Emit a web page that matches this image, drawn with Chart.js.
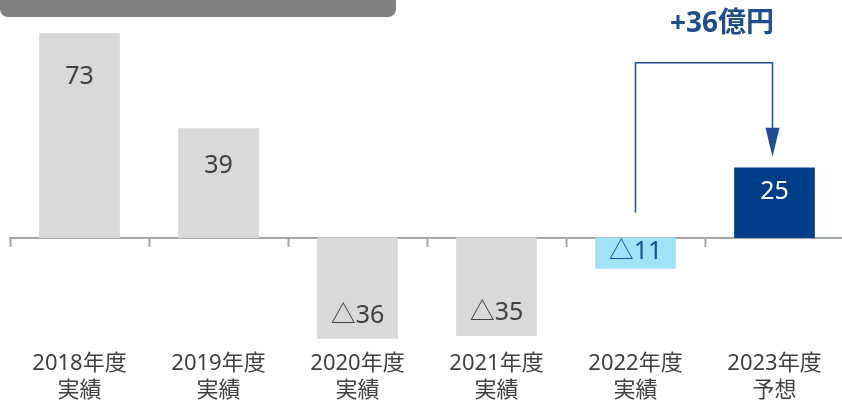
<!DOCTYPE html>
<html>
<head>
<meta charset="utf-8">
<script src="https://cdn.jsdelivr.net/npm/chart.js@4"></script>
<style>
  body { margin: 0; background: #fff; overflow: hidden; }
  #wrap { width: 844px; height: 400px; position: relative; }
</style>
</head>
<body>
<div id="wrap"><canvas id="barChart"></canvas></div>
<script>
// data
let years = [["2018年度", "実績"], ["2019年度", "実績"], ["2020年度", "実績"], ["2021年度", "実績"], ["2022年度", "実績"], ["2023年度", "予想"]];
let profit = [73, 39, -36, -35, -11, 25];
let barColors = ['#d9d9d9', '#d9d9d9', '#d9d9d9', '#d9d9d9', '#a0e3f9', '#003e8a'];
let labelColors = ['#404040', '#404040', '#404040', '#404040', '#1d4f97', '#ffffff'];
let diffText = "+36億円";

let fontMain = "'Noto Sans', 'Noto Sans CJK JP', sans-serif";

function fmt(v) {
  return v < 0 ? "△" + Math.abs(v) : String(v);
}

let extras = {
  id: 'extras',
  afterDatasetsDraw(chart) {
    let ctx = chart.ctx;
    let x = chart.scales.x;
    let y = chart.scales.y;
    let meta = chart.getDatasetMeta(0);

    // value labels
    ctx.save();
    ctx.font = "25px " + fontMain;
    ctx.textAlign = 'center';
    ctx.textBaseline = 'middle';
    meta.data.forEach((bar, i) => {
      let v = profit[i];
      let top = Math.min(bar.y, bar.base);
      let bottom = Math.max(bar.y, bar.base);
      let h = bottom - top;
      let ty = v >= 0 ? top + Math.min(43, h * 0.34) : bottom - Math.min(22, h / 2) - 1;
      ctx.fillStyle = labelColors[i];
      ctx.fillText(fmt(v), bar.x, ty);
    });
    ctx.restore();

    // elbow arrow from 2022 to 2023
    let x1 = x.getPixelForValue(4);
    let x2 = meta.data[5].x - 2;
    let yLow = y.getPixelForValue(9);
    let yHigh = y.getPixelForValue(62.6);
    let tip = y.getPixelForValue(29);
    ctx.save();
    ctx.strokeStyle = '#1f4e96';
    ctx.fillStyle = '#1f4e96';
    ctx.lineWidth = 1.5;
    ctx.beginPath();
    ctx.moveTo(x1, yLow);
    ctx.lineTo(x1, yHigh);
    ctx.lineTo(x2, yHigh);
    ctx.lineTo(x2, tip - 26);
    ctx.stroke();
    ctx.beginPath();
    ctx.moveTo(x2 - 7, tip - 29);
    ctx.lineTo(x2 + 7, tip - 29);
    ctx.lineTo(x2, tip);
    ctx.closePath();
    ctx.fill();

    ctx.font = "bold 28px " + fontMain;
    ctx.textAlign = 'center';
    ctx.textBaseline = 'middle';
    ctx.fillStyle = '#1f4e8c';
    ctx.fillText(diffText, (x1 + x2) / 2 + 18, y.getPixelForValue(76.5));
    ctx.restore();

    // grey header bar cut at the top
    ctx.save();
    ctx.fillStyle = '#808080';
    ctx.beginPath();
    ctx.roundRect(0, -12, 396, 29, 8);
    ctx.fill();
    ctx.restore();
  }
};

let profitChart = new Chart(document.getElementById('barChart'), {
  type: 'bar',
  data: {
    labels: years,
    datasets: [{
      data: profit,
      backgroundColor: barColors,
      barThickness: 80
    }]
  },
  options: {
    responsive: true,
    maintainAspectRatio: false,
    animation: false,
    layout: { padding: { left: 10, right: 0, top: 0, bottom: 0 } },
    plugins: {
      legend: { display: false },
      tooltip: { enabled: false }
    },
    scales: {
      x: {
        position: { y: 0 },
        afterFit(scale) {
          scale.paddingLeft = 0;
          scale.paddingRight = 0;
        },
        grid: {
          drawOnChartArea: false,
          drawTicks: true,
          tickLength: 8,
          tickWidth: 2,
          tickColor: '#a6a6a6'
        },
        border: { display: true, color: '#a6a6a6', width: 2 },
        ticks: {
          padding: 104,
          color: '#404040',
          font: { family: fontMain, size: 22, lineHeight: 1.25 },
          maxRotation: 0,
          autoSkip: false
        }
      },
      y: {
        display: false,
        min: -58,
        max: 85
      }
    }
  },
  plugins: [extras]
});
</script>
</body>
</html>
